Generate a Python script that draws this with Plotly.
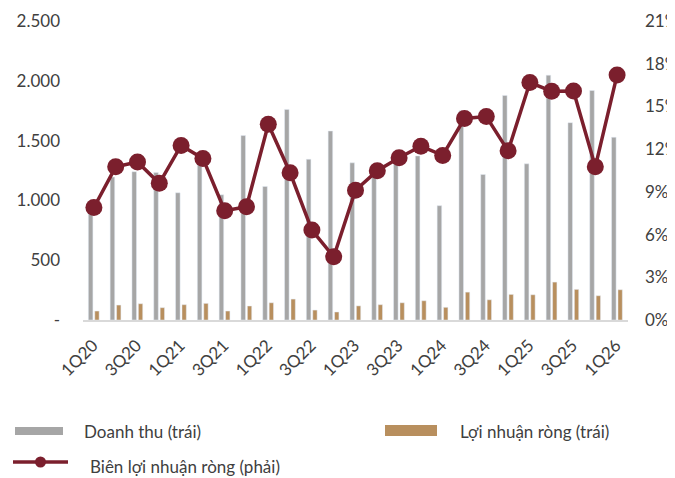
import plotly.graph_objects as go

quarters = ["1Q20","2Q20","3Q20","4Q20","1Q21","2Q21","3Q21","4Q21","1Q22","2Q22","3Q22","4Q22",
            "1Q23","2Q23","3Q23","4Q23","1Q24","2Q24","3Q24","4Q24","1Q25","2Q25","3Q25","4Q25","1Q26"]
revenue = [900, 1195, 1240, 1233, 1064, 1320, 1047, 1542, 1117, 1761, 1344, 1580,
           1314, 1240, 1340, 1372, 956, 1750, 1217, 1878, 1306, 2047, 1650, 1919, 1528]
net_profit = [75, 125, 136, 103, 128, 139, 75, 117, 144, 175, 83, 67,
              118, 128, 144, 161, 106, 233, 169, 214, 211, 317, 256, 203, 253]
net_margin = [0.079, 0.1076, 0.111, 0.096, 0.1226, 0.1135, 0.0767, 0.0795, 0.1375, 0.1034, 0.0632, 0.0444,
              0.0912, 0.1048, 0.1139, 0.1221, 0.1156, 0.1415, 0.1429, 0.1188, 0.1668, 0.1607, 0.1609, 0.1076, 0.1721]

left_tickvals = [0, 500, 1000, 1500, 2000, 2500]
left_ticktext = ["-", "500", "1.000", "1.500", "2.000", "2.500"]
right_tickvals = [0, 0.03, 0.06, 0.09, 0.12, 0.15, 0.18, 0.21]
right_ticktext = ["0%", "3%", "6%", "9%", "12%", "15%", "18%", "21%"]
xtick_labels = quarters[::2]

name_rev = "Doanh thu (trái)"
name_np = "Lợi nhuận ròng (trái)"
name_nm = "Biên lợi nhuận ròng (phải)"

GRAY = "#A6A6A6"
TAN = "#B88F5E"
WINE = "#7B1F2D"
TXT = "#404040"
FONT = "Lato"

x_idx = list(range(len(quarters)))

fig = go.Figure()
fig.add_trace(go.Bar(x=x_idx, y=revenue, name=name_rev, marker_color=GRAY,
                     width=0.21, offset=-0.255, showlegend=False))
fig.add_trace(go.Bar(x=x_idx, y=net_profit, name=name_np, marker_color=TAN,
                     width=0.2, offset=0.04, showlegend=False))
fig.add_trace(go.Scatter(x=x_idx, y=net_margin, name=name_nm, yaxis="y2", mode="lines+markers",
                         line=dict(color=WINE, width=3.5), marker=dict(color=WINE, size=17),
                         showlegend=False))

# page body has an 8px margin; lay out in page pixels and compensate
OFF = 8
W, H = 675 - OFF, 478 - OFF
L, R, T, B = 83 - OFF, 628 - OFF, 21 - OFF, 320 - OFF

def px(xp):
    return (xp - OFF - L) / (R - L)
def py(yp):
    return (B - (yp - OFF)) / (B - T)

shapes = [
    dict(type="rect", xref="paper", yref="paper", x0=px(15), x1=px(63), y0=py(435), y1=py(427),
         fillcolor=GRAY, line_width=0),
    dict(type="rect", xref="paper", yref="paper", x0=px(385), x1=px(437), y0=py(436), y1=py(425),
         fillcolor=TAN, line_width=0),
    dict(type="line", xref="paper", yref="paper", x0=px(13), x1=px(68), y0=py(462), y1=py(462),
         line=dict(color=WINE, width=3.5)),
    dict(type="circle", xref="paper", yref="paper", x0=px(35), x1=px(46), y0=py(467.5), y1=py(456.5),
         fillcolor=WINE, line_width=0),
]
annotations = [
    dict(text=name_rev, xref="paper", yref="paper", x=px(82), y=py(431), xanchor="left", yanchor="middle",
         showarrow=False, font=dict(family=FONT, size=17, color=TXT)),
    dict(text=name_np, xref="paper", yref="paper", x=px(458), y=py(431), xanchor="left", yanchor="middle",
         showarrow=False, font=dict(family=FONT, size=17, color=TXT)),
    dict(text=name_nm, xref="paper", yref="paper", x=px(88), y=py(467), xanchor="left", yanchor="middle",
         showarrow=False, font=dict(family=FONT, size=17, color=TXT)),
]

fig.update_layout(
    width=W, height=H,
    margin=dict(l=L, r=W - R, t=T, b=H - B, pad=0, autoexpand=False),
    paper_bgcolor="white", plot_bgcolor="white",
    barmode="overlay",
    font=dict(family=FONT, size=17, color=TXT),
    xaxis=dict(range=[-0.5, len(quarters) - 0.5], tickmode="array", tickvals=x_idx[::2],
               ticktext=xtick_labels, tickangle=-45, showgrid=False, showline=True,
               linecolor="#D9D9D9", linewidth=1.5, ticks="", zeroline=False, automargin=False,
               tickfont=dict(family=FONT, size=17, color=TXT), ticklabelshift=-1, ticklabelstandoff=7),
    yaxis=dict(range=[0, 2500], tickmode="array", tickvals=left_tickvals, ticktext=left_ticktext,
               showgrid=False, zeroline=False, showline=False, ticks="", automargin=False,
               tickfont=dict(family=FONT, size=17, color=TXT), ticklabelstandoff=22),
    yaxis2=dict(range=[0, 0.21], overlaying="y", side="right", tickmode="array",
                tickvals=right_tickvals, ticktext=right_ticktext, showgrid=False, zeroline=False,
                showline=False, ticks="", automargin=False, tickfont=dict(family=FONT, size=17, color=TXT),
                ticklabelstandoff=16),
    shapes=shapes, annotations=annotations,
)

fig.write_html("out.html")
